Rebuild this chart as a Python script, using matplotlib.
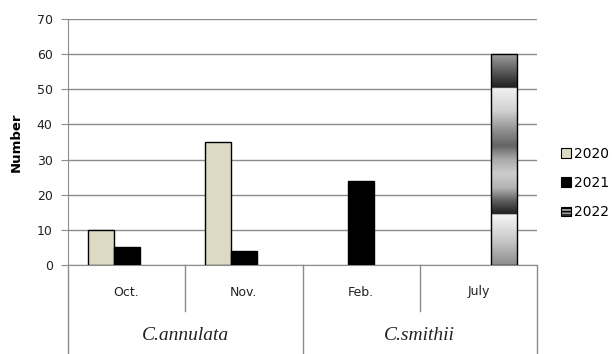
import numpy as np
import matplotlib
matplotlib.use("Agg")
import matplotlib.pyplot as plt
from matplotlib.patches import Patch
from matplotlib.transforms import blended_transform_factory

# Monthly counts per year for each species
months = ["Oct.", "Nov.", "Feb.", "July"]
species = ["C.annulata", "C.smithii"]
species_span = [(0, 1), (2, 3)]          # month indices covered by each species
years = ["2020", "2021", "2022"]
v2020 = [10, 35, 0, 0]
v2021 = [5, 4, 24, 0]
v2022 = [0, 0, 0, 60]

# Vertical shading profile for the 2022 bars (value -> grey level)
shade_pos = [0, 7, 14.3, 14.5, 18, 22, 26, 30, 34, 38, 44, 50.3, 50.5, 55, 60]
shade_lvl = [140, 200, 245, 30, 90, 180, 205, 170, 100, 140, 210, 240, 30, 90, 160]

fig = plt.figure(figsize=(6.12, 3.54), dpi=100)
ax = fig.add_axes([68 / 612, 1 - 265 / 354, (537 - 68) / 612, (265 - 19) / 354])

x = np.arange(len(months))
w = 0.222
ec = "black"

for xi, v in zip(x, v2020):
    if v:
        ax.bar(xi - w, v, w, color="#dcd9c5", edgecolor=ec, linewidth=1, zorder=3)
for xi, v in zip(x, v2021):
    if v:
        ax.bar(xi, v, w, color="black", edgecolor=ec, linewidth=1, zorder=3)

# 2022 bars: gradient fill clipped to each bar
for xi, v in zip(x, v2022):
    if v:
        bars = ax.bar(xi + w, v, w, facecolor="none", edgecolor=ec, linewidth=1, zorder=4)
        rect = bars[0]
        yy = np.linspace(0, v, 600)
        g = np.interp(yy, shade_pos, shade_lvl) / 255.0
        img = np.repeat(g[:, None], 2, axis=1)
        im = ax.imshow(img, cmap="gray", vmin=0, vmax=1, origin="lower",
                       extent=[xi + w / 2, xi + 1.5 * w, 0, v],
                       aspect="auto", interpolation="bilinear", zorder=3)
        im.set_clip_path(rect)

ax.set_xlim(-0.5, len(months) - 0.5)
ax.set_ylim(0, 70)
ax.set_yticks(range(0, 71, 10))
ax.yaxis.grid(True, color="#8c8c8c", linewidth=1)
ax.set_axisbelow(True)
for s in ["top", "right"]:
    ax.spines[s].set_visible(False)
ax.spines["left"].set_color("#8c8c8c")
ax.spines["bottom"].set_color("#8c8c8c")
ax.tick_params(axis="y", length=5, color="#8c8c8c", labelsize=9,
               labelcolor="#222222", pad=6)
ax.set_xticks([])
ax.set_ylabel("Number", fontsize=9.5, fontweight="bold", labelpad=10)

# Two-level category axis below the plot
tr = blended_transform_factory(ax.transData, ax.transAxes)
axis_h = 246.0
full_bottom = -89 / axis_h
part_bottom = -46 / axis_h
lc = "#8c8c8c"
ax.plot([-0.5, -0.5], [0, full_bottom], color=lc, lw=1, transform=tr, clip_on=False)
for a, b in species_span:
    ax.plot([b + 0.5, b + 0.5], [0, full_bottom], color=lc, lw=1, transform=tr, clip_on=False)
    for k in range(a, b):
        ax.plot([k + 0.5, k + 0.5], [0, part_bottom], color=lc, lw=1, transform=tr, clip_on=False)
for xi, m in zip(x, months):
    ax.text(xi, -27 / axis_h, m, transform=tr, ha="center", va="center",
            fontsize=9, color="#222222")
for (a, b), sp in zip(species_span, species):
    ax.text((a + b) / 2, -70 / axis_h, sp, transform=tr, ha="center", va="center",
            fontsize=14, fontstyle="italic", family="Liberation Serif", color="#222222")

handles = [
    Patch(facecolor="#dcd9c5", edgecolor="black", linewidth=0.8, label=years[0]),
    Patch(facecolor="black", edgecolor="black", linewidth=0.8, label=years[1]),
    Patch(facecolor="#9a9a9a", edgecolor="black", linewidth=0.8, hatch="-----", label=years[2]),
]
fig.legend(handles=handles, loc="center left", bbox_to_anchor=(561 / 612, 1 - 183 / 354),
           frameon=False, fontsize=10, handlelength=0.7, handleheight=0.7,
           handletextpad=0.25, labelspacing=1.1, borderaxespad=0, borderpad=0)

fig.savefig("out.png", dpi=100)
